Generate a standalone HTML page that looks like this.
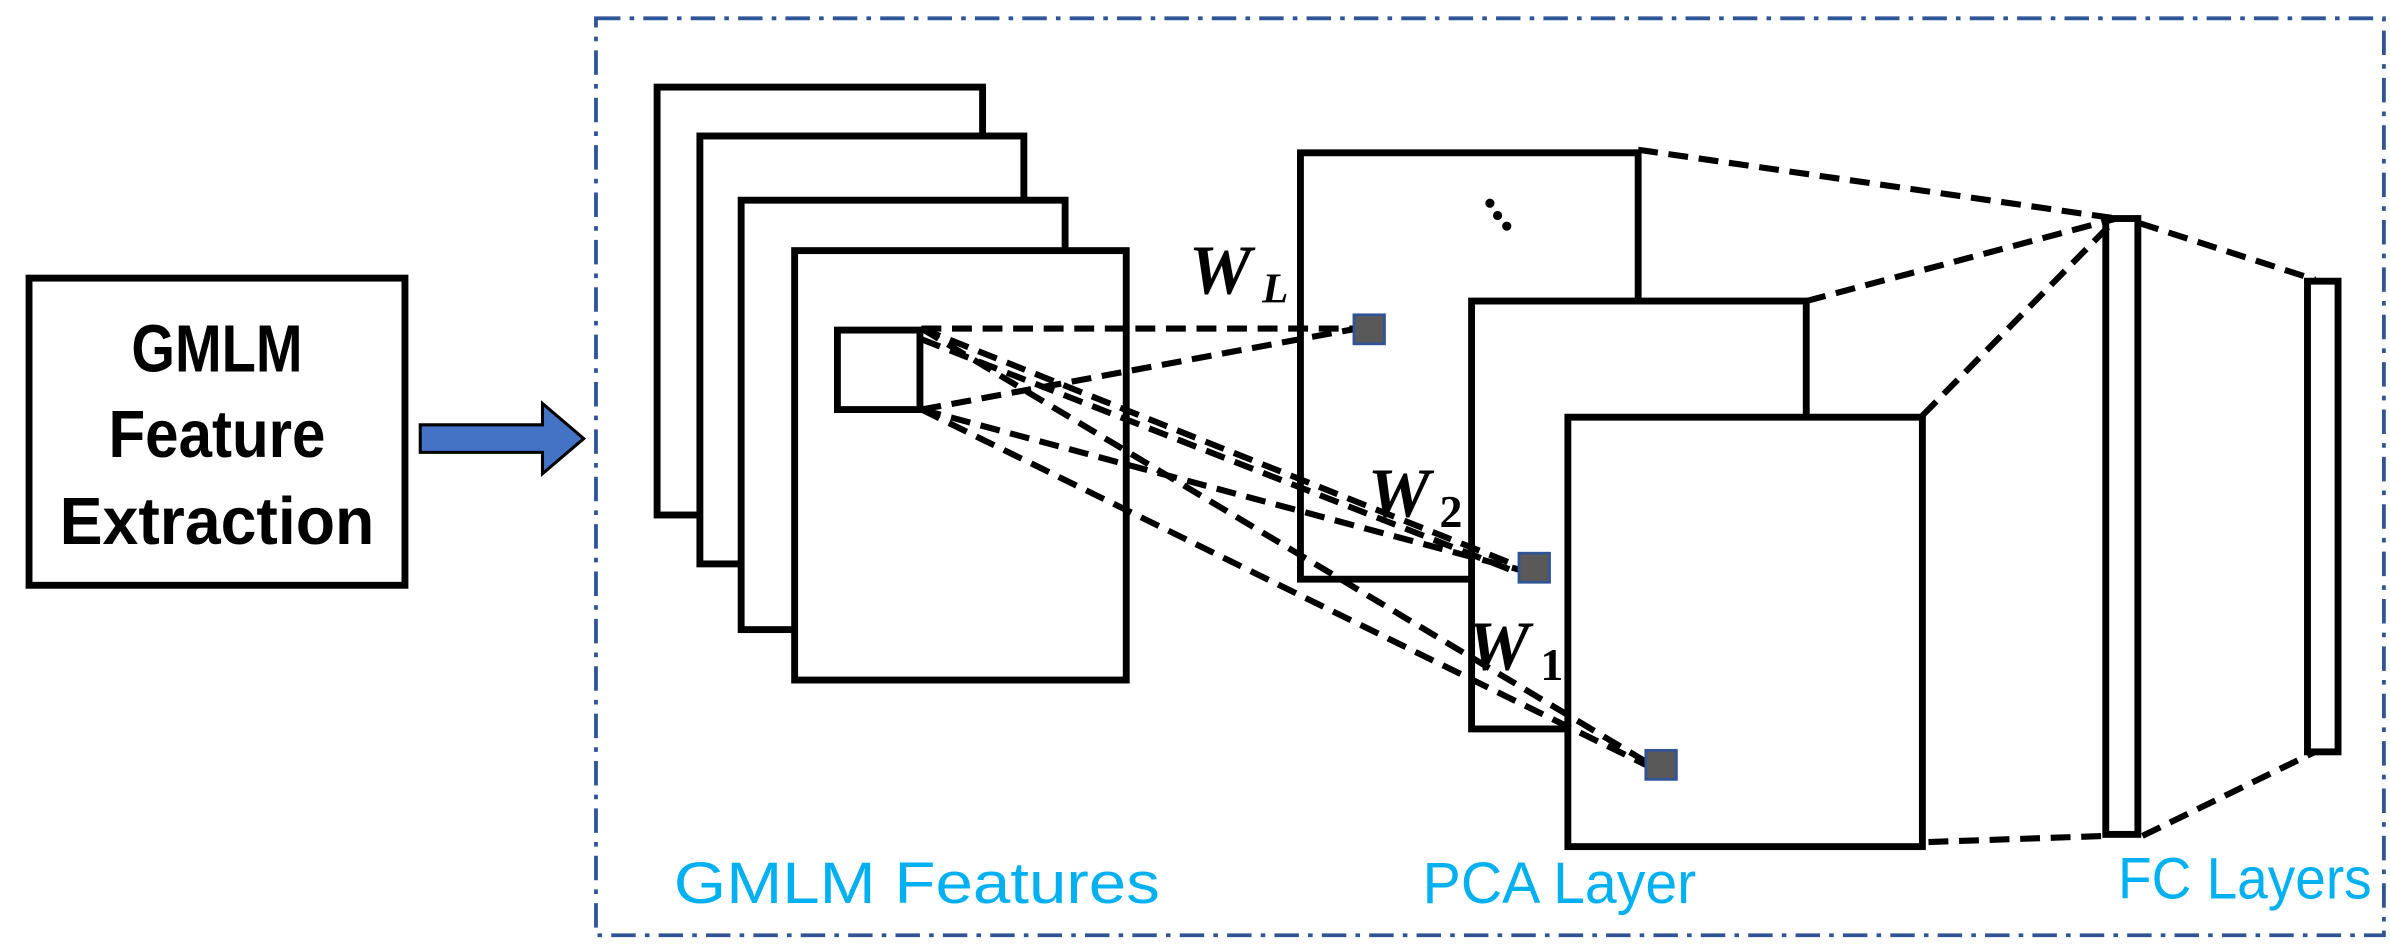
<!DOCTYPE html>
<html><head><style>html,body{margin:0;padding:0;background:#fff}svg{display:block}</style></head>
<body>
<svg width="2390" height="949" viewBox="0 0 1564 621" preserveAspectRatio="none" xmlns="http://www.w3.org/2000/svg">
<rect x="390" y="12" width="1170" height="600" fill="none" stroke="#2F5597" stroke-width="2.5" stroke-dasharray="16,6,3,6"/>
<rect x="19" y="182" width="246" height="201" fill="#fff" stroke="#000" stroke-width="4.5"/>
<g font-family="Liberation Sans, sans-serif" font-weight="bold" font-size="44" text-anchor="middle" fill="#000">
<text x="142" y="243" textLength="112" lengthAdjust="spacingAndGlyphs">GMLM</text>
<text x="142" y="299" textLength="142" lengthAdjust="spacingAndGlyphs">Feature</text>
<text x="142" y="356" textLength="206" lengthAdjust="spacingAndGlyphs">Extraction</text>
</g>
<polygon points="275,278 355,278 355,264 382,287 355,310 355,296 275,296" fill="#4472C4" stroke="#000" stroke-width="2"/>
<g fill="#fff" stroke="#000" stroke-width="4.5">
<rect x="430" y="57" width="213" height="280"/>
<rect x="458" y="89" width="212" height="280"/>
<rect x="485" y="131" width="212" height="281"/>
<rect x="520" y="164" width="217" height="281"/>
<rect x="548" y="216" width="54" height="52"/>
<rect x="851" y="100" width="221" height="279"/>
<rect x="963" y="197" width="219" height="280"/>
<rect x="1026" y="273" width="232" height="281"/>
<rect x="1378" y="143" width="21" height="403"/>
<rect x="1510" y="184" width="20" height="308"/>
</g>
<g stroke="#000" stroke-width="4" stroke-dasharray="13,7" fill="none">
<line x1="603" y1="215" x2="888" y2="215"/>
<line x1="603" y1="268" x2="888" y2="215"/>
<line x1="603" y1="215" x2="995" y2="371"/>
<line x1="603" y1="268" x2="995" y2="373"/>
<line x1="603" y1="222" x2="994" y2="375"/>
<line x1="603" y1="215" x2="1078" y2="499"/>
<line x1="603" y1="268" x2="1078" y2="501"/>
<line x1="1072" y1="98" x2="1385" y2="143"/>
<line x1="1182" y1="197" x2="1385" y2="143"/>
<line x1="1258" y1="272" x2="1385" y2="143"/>
<line x1="1262" y1="551" x2="1378" y2="547"/>
<line x1="1400" y1="146" x2="1515" y2="183"/>
<line x1="1402" y1="547" x2="1515" y2="492"/>
</g>
<g fill="#595959" stroke="#2F5597" stroke-width="1.8">
<rect x="886" y="206" width="20" height="19"/>
<rect x="994" y="362" width="20" height="19"/>
<rect x="1077" y="491" width="20" height="19"/>
</g>
<g fill="#000"><circle cx="975" cy="133" r="3"/><circle cx="980" cy="141" r="3"/><circle cx="986" cy="148" r="3"/></g>
<g font-family="Liberation Serif, serif" font-weight="bold" font-style="italic" fill="#000">
<text x="778" y="192" font-size="46">W</text><text x="826" y="198" font-size="28">L</text>
<text x="895" y="338" font-size="46">W</text><text x="942" y="345" font-size="30" font-style="normal">2</text>
<text x="960" y="438" font-size="46">W</text><text x="1008" y="445" font-size="30" font-style="normal">1</text>
</g>
<g font-family="Liberation Sans, sans-serif" font-size="38" fill="#00B0F0">
<text x="441" y="591" textLength="318" lengthAdjust="spacingAndGlyphs">GMLM Features</text>
<text x="931" y="591" textLength="179" lengthAdjust="spacingAndGlyphs">PCA Layer</text>
<text x="1386" y="588" textLength="166" lengthAdjust="spacingAndGlyphs">FC Layers</text>
</g>
</svg>
</body></html>
